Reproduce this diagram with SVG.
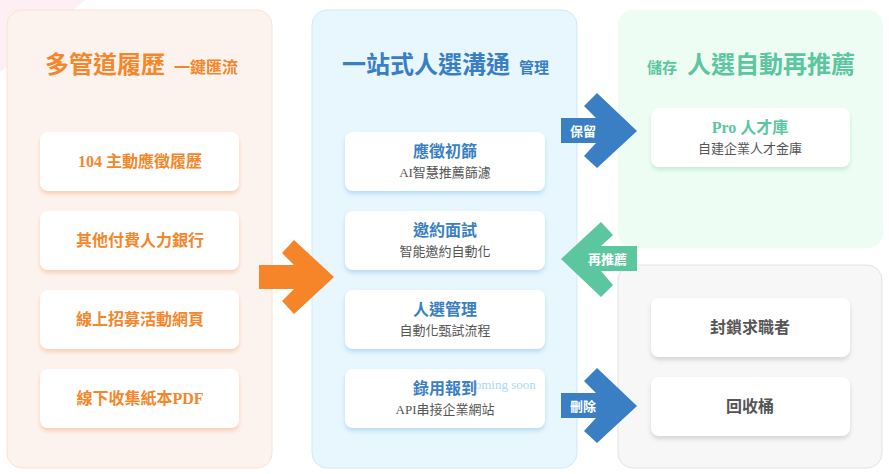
<svg xmlns="http://www.w3.org/2000/svg" width="889" height="474" viewBox="0 0 889 474">
<style>
.cjk{font-family:"Noto Sans CJK TC","Noto Sans CJK SC",sans-serif;}
.mix{font-family:"Liberation Serif","Noto Sans CJK TC",serif;}
.card{fill:#ffffff;}
.lt{fill:#f5862a;font-weight:bold;font-size:16px;text-anchor:middle;}
.mt{fill:#3a7fc4;font-weight:bold;font-size:16px;text-anchor:middle;}
.st{fill:#555555;font-size:13px;text-anchor:middle;}
.gt{fill:#5cc6a0;font-weight:bold;font-size:16px;text-anchor:middle;}
.dt{fill:#555555;font-weight:bold;font-size:16px;text-anchor:middle;}
.al{fill:#ffffff;font-weight:bold;font-size:13px;}
</style>
<defs>
<filter id="so" x="-10%" y="-20%" width="120%" height="150%"><feDropShadow dx="0" dy="3" stdDeviation="2" flood-color="#f5a070" flood-opacity="0.45"/></filter>
<filter id="sb" x="-10%" y="-20%" width="120%" height="150%"><feDropShadow dx="0" dy="3" stdDeviation="2" flood-color="#7fbde8" flood-opacity="0.45"/></filter>
<filter id="sg" x="-10%" y="-20%" width="120%" height="150%"><feDropShadow dx="0" dy="3" stdDeviation="2" flood-color="#80d8b0" flood-opacity="0.4"/></filter>
<filter id="sk" x="-10%" y="-20%" width="120%" height="150%"><feDropShadow dx="0" dy="3" stdDeviation="2" flood-color="#999999" flood-opacity="0.35"/></filter>
</defs>
<rect width="889" height="474" fill="#ffffff"/>
<polygon points="0,0 85,0 0,72" fill="#fdeff3"/>

<g id="panel-left">
<rect x="7" y="10" width="265" height="458" rx="15" fill="#fdf3ee" stroke="#fbe2d3" stroke-width="1"/>
<text class="cjk" x="45" y="73" font-size="24" font-weight="bold" fill="#f5862a">多管道履歷<tspan font-size="16" dx="9">一鍵匯流</tspan></text>
</g>
<g id="panel-mid">
<rect x="312" y="10" width="265" height="458" rx="15" fill="#e8f6fe" stroke="#cfe9fa" stroke-width="1"/>
<text class="cjk" x="342" y="73" font-size="24" font-weight="bold" fill="#3a7fc4">一站式人選溝通<tspan font-size="15" dx="9">管理</tspan></text>
</g>
<g id="panel-store">
<rect x="618" y="10" width="265" height="238" rx="15" fill="#eefdf3"/>
<text class="cjk" x="647" y="73" font-size="15" font-weight="bold" fill="#5cc6a0">儲存<tspan font-size="24" dx="10">人選自動再推薦</tspan></text>
</g>
<g id="panel-trash">
<rect x="618" y="265" width="264" height="203" rx="15" fill="#f7f7f7" stroke="#e2e2e2" stroke-width="1"/>
</g>

<g id="n-104"><rect class="card" x="40" y="132" width="199" height="59" rx="8" filter="url(#so)"/><text class="mix lt" x="140" y="167">104 主動應徵履歷</text></g>
<g id="n-bank"><rect class="card" x="40" y="211" width="199" height="59" rx="8" filter="url(#so)"/><text class="mix lt" x="140" y="246">其他付費人力銀行</text></g>
<g id="n-online"><rect class="card" x="40" y="290" width="199" height="59" rx="8" filter="url(#so)"/><text class="mix lt" x="140" y="325">線上招募活動網頁</text></g>
<g id="n-offline"><rect class="card" x="40" y="369" width="199" height="59" rx="8" filter="url(#so)"/><text class="mix lt" x="140" y="404">線下收集紙本PDF</text></g>

<g id="n-screen"><rect class="card" x="345" y="132" width="200" height="59" rx="8" filter="url(#sb)"/><text class="mix mt" x="445" y="157">應徵初篩</text><text class="mix st" x="445" y="177">AI智慧推薦篩濾</text></g>
<g id="n-invite"><rect class="card" x="345" y="211" width="200" height="59" rx="8" filter="url(#sb)"/><text class="mix mt" x="445" y="236">邀約面試</text><text class="mix st" x="445" y="256">智能邀約自動化</text></g>
<g id="n-manage"><rect class="card" x="345" y="290" width="200" height="59" rx="8" filter="url(#sb)"/><text class="mix mt" x="445" y="315">人選管理</text><text class="mix st" x="445" y="335">自動化甄試流程</text></g>
<g id="n-hire"><rect class="card" x="345" y="369" width="200" height="59" rx="8" filter="url(#sb)"/><text class="mix" x="466" y="389" font-size="13" fill="#a9d9f5">Coming soon</text><text class="mix mt" x="445" y="394">錄用報到</text><text class="mix st" x="445" y="414">API串接企業網站</text></g>

<g id="n-pro"><rect class="card" x="651" y="108" width="199" height="59" rx="8" filter="url(#sg)"/><text class="mix gt" x="750" y="133">Pro 人才庫</text><text class="mix st" x="750" y="153">自建企業人才金庫</text></g>
<g id="n-block"><rect class="card" x="651" y="298" width="199" height="59" rx="8" filter="url(#sk)"/><text class="cjk dt" x="750" y="333">封鎖求職者</text></g>
<g id="n-bin"><rect class="card" x="651" y="377" width="199" height="59" rx="8" filter="url(#sk)"/><text class="cjk dt" x="750" y="412">回收桶</text></g>

<g id="connectors">
<polygon points="259,265 294,265 282,253 294,240 334,277 294,314 282,301 294,289 259,289" fill="#f68428"/>
<polygon points="561,118 596,118 584,106 597,93 637,131 597,168 584,156 596,143 561,143" fill="#3a7fc4"/>
<text class="cjk al" x="570" y="136">保留</text>
<polygon points="637,246 601,246 613,235 601,222 561,259 601,297 613,285 601,271 637,271" fill="#5cc6a0"/>
<text class="cjk al" x="588" y="264">再推薦</text>
<polygon points="561,393 596,393 584,381 597,368 637,406 597,443 584,431 596,418 561,418" fill="#3a7fc4"/>
<text class="cjk al" x="570" y="411">刪除</text>
</g>
</svg>
